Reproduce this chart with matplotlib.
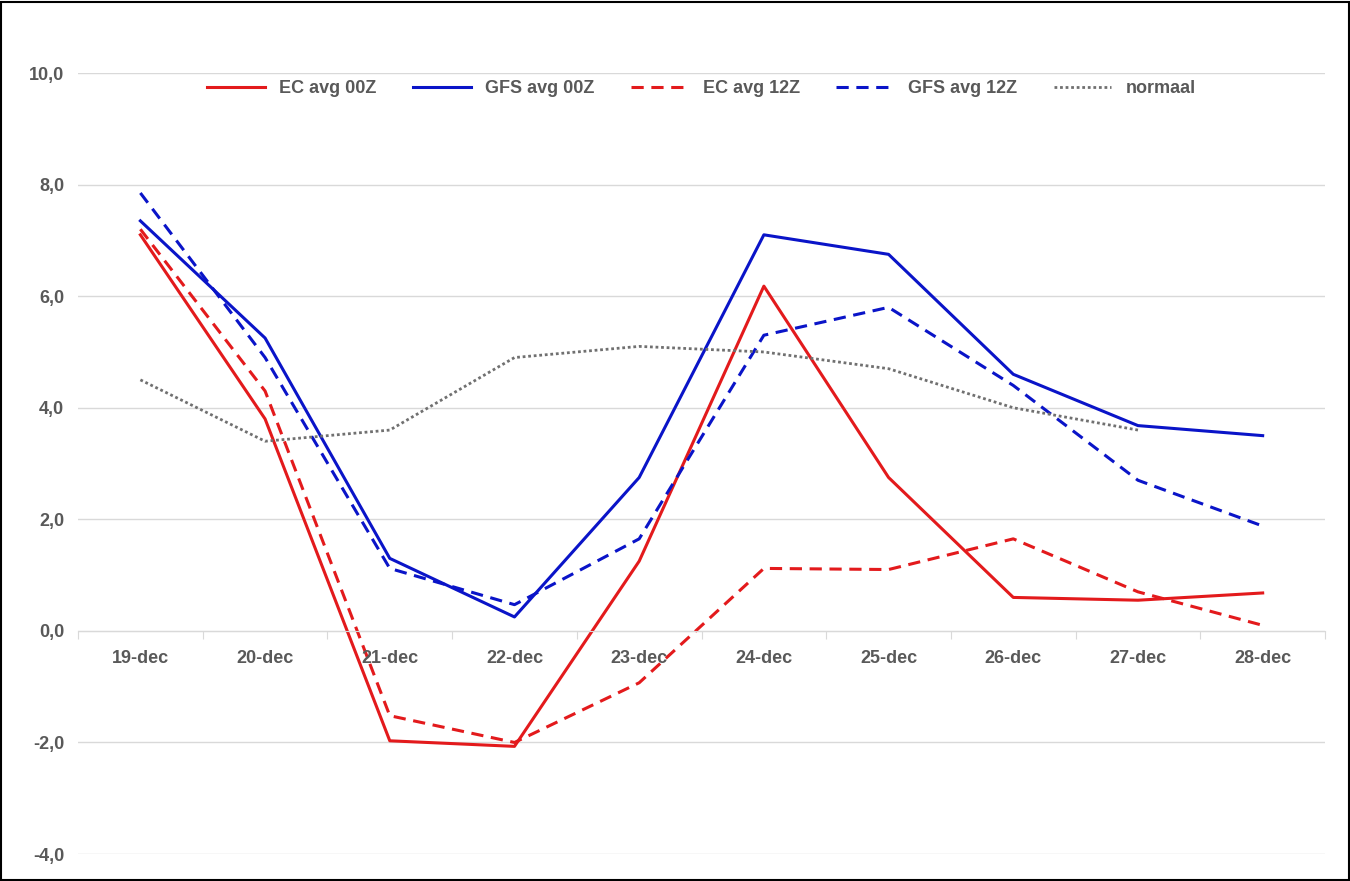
import matplotlib.pyplot as plt
import numpy as np

dates = ['19-dec', '20-dec', '21-dec', '22-dec', '23-dec', '24-dec', '25-dec', '26-dec', '27-dec', '28-dec']
ec_00 = [7.1, 3.8, -1.97, -2.07, 1.25, 6.18, 2.75, 0.6, 0.55, 0.68]
gfs_00 = [7.35, 5.25, 1.3, 0.25, 2.75, 7.1, 6.75, 4.6, 3.68, 3.5]
ec_12 = [7.2, 4.3, -1.52, -2.0, -0.93, 1.12, 1.1, 1.65, 0.7, 0.1]
gfs_12 = [7.85, 4.9, 1.12, 0.47, 1.65, 5.3, 5.8, 4.4, 2.7, 1.88]
normaal = [4.5, 3.4, 3.6, 4.9, 5.1, 5.0, 4.7, 4.0, 3.6, np.nan]

plt.rcParams['font.family'] = ['Liberation Sans', 'DejaVu Sans']
grey = '#595959'

fig = plt.figure(figsize=(13.5, 8.81), dpi=100)
fig.patches.append(plt.Rectangle((0.001, 0.001), 0.998, 0.997, transform=fig.transFigure,
                                 fill=False, edgecolor='black', linewidth=1.5))
ax = fig.add_axes([0.0578, 0.0306, 0.9237, 0.8865])
x = np.arange(len(dates))
ax.plot(x, ec_00, color='#e31a1c', lw=2.2, label='EC avg 00Z')
ax.plot(x, gfs_00, color='#0a14c8', lw=2.2, label='GFS avg 00Z')
ax.plot(x, ec_12, color='#e31a1c', lw=2.2, ls=(0, (4, 2.5)), label='EC avg 12Z')
ax.plot(x, gfs_12, color='#0a14c8', lw=2.2, ls=(0, (4, 2.5)), label='GFS avg 12Z')
ax.plot(x, normaal, color='#707070', lw=2, ls=(0, (1, 1)), label='normaal')

ax.set_xlim(-0.5, 9.5)
ax.set_ylim(-4, 10)
ax.set_yticks(np.arange(-4, 10.1, 2))
ax.set_yticklabels([f'{v:.1f}'.replace('.', ',') for v in np.arange(-4, 10.1, 2)],
                   fontsize=13, fontweight='bold', color=grey)
ax.grid(axis='y', color='#d9d9d9', lw=1)
ax.set_axisbelow(True)
for s in ['top', 'right', 'left']:
    ax.spines[s].set_visible(False)
ax.spines['bottom'].set_position(('data', 0))
ax.spines['bottom'].set_color('#d9d9d9')
ax.tick_params(axis='y', length=0, pad=10)
ax.set_xticks(np.arange(-0.5, 9.6, 1))
ax.set_xticklabels([])
ax.tick_params(axis='x', length=6, color='#d9d9d9')
for i, d in enumerate(dates):
    ax.text(i, -0.5, d, ha='center', va='center', fontsize=13, fontweight='bold', color=grey)

ax.legend(loc='upper center', bbox_to_anchor=(0.5, 1.012), ncol=5, frameon=False,
          prop={'size': 13, 'weight': 'bold'}, labelcolor=grey, handlelength=3.2,
          columnspacing=2.0)
fig.savefig('out.png')
